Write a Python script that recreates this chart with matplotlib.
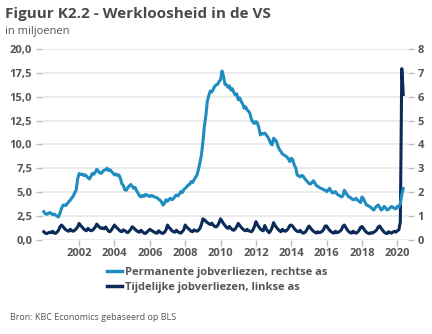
import numpy as np
import matplotlib
matplotlib.use("Agg")
import matplotlib.pyplot as plt
from matplotlib.lines import Line2D

# Monthly series, Jan 2000 - May 2020 (millions)
# Permanent job losers (right axis)
permanent = [
    1.18, 1.10, 1.07, 1.10, 1.14, 1.12, 1.05, 1.08, 1.04, 0.99, 0.96, 1.12,  # 2000
    1.30, 1.45, 1.46, 1.44, 1.52, 1.60, 1.66, 1.76, 1.82, 1.98, 2.08, 2.55,  # 2001
    2.78, 2.74, 2.76, 2.70, 2.73, 2.68, 2.60, 2.55, 2.66, 2.79, 2.75, 2.84,  # 2002
    2.96, 2.88, 2.80, 2.79, 2.86, 2.92, 2.95, 3.00, 2.90, 2.94, 2.86, 2.80,  # 2003
    2.72, 2.76, 2.70, 2.72, 2.58, 2.35, 2.28, 2.10, 2.08, 2.18, 2.26, 2.32,  # 2004
    2.25, 2.16, 2.20, 2.05, 1.96, 1.84, 1.80, 1.86, 1.82, 1.90, 1.88, 1.84,  # 2005
    1.82, 1.86, 1.84, 1.80, 1.78, 1.76, 1.70, 1.66, 1.58, 1.46, 1.54, 1.68,  # 2006
    1.62, 1.70, 1.74, 1.68, 1.72, 1.82, 1.88, 1.84, 1.92, 2.02, 1.98, 2.10,  # 2007
    2.16, 2.22, 2.30, 2.32, 2.44, 2.40, 2.52, 2.62, 2.72, 2.95, 3.25, 3.55,  # 2008
    4.10, 4.76, 5.20, 5.80, 6.05, 6.24, 6.20, 6.30, 6.44, 6.50, 6.52, 6.64,  # 2009
    6.72, 7.08, 6.86, 6.52, 6.50, 6.40, 6.46, 6.28, 6.34, 6.18, 6.08, 6.12,  # 2010
    5.88, 5.95, 5.80, 5.70, 5.52, 5.58, 5.45, 5.40, 5.28, 5.04, 4.94, 4.88,  # 2011
    4.96, 4.90, 4.70, 4.40, 4.46, 4.44, 4.48, 4.40, 4.32, 4.20, 4.05, 3.98,  # 2012
    4.26, 4.20, 4.12, 3.92, 3.78, 3.70, 3.60, 3.56, 3.52, 3.48, 3.40, 3.28,  # 2013
    3.42, 3.36, 3.14, 3.02, 2.72, 2.68, 2.64, 2.70, 2.68, 2.58, 2.50, 2.44,  # 2014
    2.36, 2.34, 2.40, 2.48, 2.38, 2.28, 2.24, 2.20, 2.16, 2.14, 2.10, 2.08,  # 2015
    2.02, 2.08, 2.16, 2.04, 1.96, 2.00, 2.02, 1.92, 1.88, 1.84, 1.80, 1.84,  # 2016
    2.08, 1.98, 1.88, 1.80, 1.78, 1.72, 1.68, 1.70, 1.74, 1.66, 1.62, 1.56,  # 2017
    1.80, 1.72, 1.58, 1.46, 1.44, 1.40, 1.36, 1.30, 1.25, 1.34, 1.42, 1.46,  # 2018
    1.36, 1.25, 1.30, 1.40, 1.34, 1.25, 1.28, 1.34, 1.40, 1.36, 1.32, 1.30,  # 2019
    1.40, 1.38, 1.52, 1.90, 2.15,                                            # 2020
]

# Job losers on temporary layoff (left axis)
temporary = [
    0.85, 0.70, 0.65, 0.72, 0.80, 0.75, 0.90, 0.70, 0.68, 0.80, 1.00, 1.35,  # 2000
    1.55, 1.40, 1.20, 1.05, 0.95, 0.90, 1.10, 0.95, 0.90, 1.00, 1.15, 1.35,  # 2001
    1.72, 1.50, 1.35, 1.15, 1.02, 0.95, 1.20, 1.05, 0.95, 1.00, 1.15, 1.35,  # 2002
    1.65, 1.45, 1.30, 1.20, 1.25, 1.15, 1.35, 1.10, 0.90, 0.85, 1.05, 1.30,  # 2003
    1.55, 1.35, 1.20, 1.05, 0.90, 0.85, 1.05, 0.95, 0.85, 0.75, 0.90, 1.10,  # 2004
    1.37, 1.25, 1.10, 0.95, 0.85, 0.80, 1.00, 0.85, 0.70, 0.67, 0.80, 0.95,  # 2005
    1.10, 1.00, 0.90, 0.80, 0.72, 0.70, 0.95, 0.80, 0.70, 0.68, 0.80, 1.05,  # 2006
    1.55, 1.30, 1.15, 0.95, 0.85, 0.80, 1.00, 0.85, 0.75, 0.70, 0.85, 1.05,  # 2007
    1.55, 1.35, 1.20, 1.05, 0.90, 0.85, 1.05, 0.95, 0.90, 1.00, 1.20, 1.60,  # 2008
    2.20, 2.10, 1.95, 1.80, 1.70, 1.60, 1.75, 1.55, 1.40, 1.35, 1.50, 1.80,  # 2009
    2.20, 1.95, 1.70, 1.50, 1.30, 1.20, 1.40, 1.20, 1.05, 1.00, 1.15, 1.40,  # 2010
    1.72, 1.50, 1.30, 1.15, 1.00, 0.95, 1.10, 0.95, 0.90, 0.85, 1.05, 1.40,  # 2011
    1.90, 1.60, 1.35, 1.15, 1.00, 0.95, 1.50, 1.15, 0.90, 0.75, 0.95, 1.30,  # 2012
    1.80, 1.50, 1.30, 1.10, 0.95, 0.85, 1.10, 0.95, 0.90, 1.00, 1.20, 1.50,  # 2013
    1.55, 1.40, 1.20, 1.00, 0.90, 0.85, 1.00, 0.80, 0.70, 0.75, 0.90, 1.20,  # 2014
    1.45, 1.25, 1.05, 0.90, 0.80, 0.70, 0.85, 0.75, 0.80, 0.90, 1.10, 1.45,  # 2015
    1.45, 1.20, 1.00, 0.85, 0.75, 0.70, 0.90, 0.75, 0.80, 0.90, 1.05, 1.40,  # 2016
    1.55, 1.30, 1.05, 0.85, 0.75, 0.70, 0.90, 0.75, 0.70, 0.80, 1.00, 1.30,  # 2017
    1.40, 1.20, 0.95, 0.80, 0.70, 0.65, 0.75, 0.70, 0.80, 0.90, 1.05, 1.35,  # 2018
    1.45, 1.20, 1.00, 0.80, 0.70, 0.65, 0.85, 0.75, 0.70, 0.80, 0.90, 0.80,  # 2019
    0.95, 1.05, 1.85, 17.95, 15.25,                                          # 2020
]

start_year = 2000
year_ticks = list(range(2002, 2021, 2))
left_ticks = [0, 2.5, 5, 7.5, 10, 12.5, 15, 17.5, 20]
right_ticks = list(range(0, 9))

label_perm = "Permanente jobverliezen, rechtse as"
label_temp = "Tijdelijke jobverliezen, linkse as"
title = "Figuur K2.2 - Werkloosheid in de VS"
subtitle = "in miljoenen"
source = "Bron: KBC Economics gebaseerd op BLS"

c_light = "#1f8dc0"
c_dark = "#0a2b57"
c_text = "#555555"
c_grid = "#ebebeb"

plt.rcParams["font.family"] = ["Open Sans", "DejaVu Sans"]

t_perm = start_year + np.arange(len(permanent)) / 12.0
t_temp = start_year + np.arange(len(temporary)) / 12.0

fig = plt.figure(figsize=(4.32, 3.34), dpi=100)
ax = fig.add_axes([0.0972, 0.282, 0.8472, 0.571])
ax2 = ax.twinx()

for v in left_ticks:
    ax.axhline(v, color=c_grid, lw=1.4, zorder=0)

ax.plot(t_temp, temporary, color=c_dark, lw=2.2, solid_joinstyle="round", zorder=3)
ax2.plot(t_perm, permanent, color=c_light, lw=2.2, solid_joinstyle="round", zorder=3)

ax.set_xlim(1999.9, 2020.6)
ax.set_ylim(0, 20)
ax2.set_ylim(0, 8)

ax.set_yticks(left_ticks)
ax.set_yticklabels([f"{v:.1f}".replace(".", ",") for v in left_ticks])
ax2.set_yticks(right_ticks)
ax2.set_yticklabels([str(v) for v in right_ticks])
ax.set_xticks(year_ticks)
ax.set_xticklabels([str(y) for y in year_ticks])

for a in (ax, ax2):
    for s in a.spines.values():
        s.set_visible(False)
    a.tick_params(axis="both", colors="#bdbdbd", labelcolor=c_text,
                  labelsize=8, length=4, width=1, pad=3)
    for lab in a.get_yticklabels() + a.get_xticklabels():
        lab.set_fontweight("bold")
ax.tick_params(axis="x", length=4, pad=2)

fig.text(0.012, 0.958, title, fontsize=11, fontweight="bold", color="#4a4a4a",
         va="center", ha="left")
fig.text(0.012, 0.905, subtitle, fontsize=8, color=c_text, va="center", ha="left")
fig.text(0.023, 0.048, source, fontsize=6.5, color=c_text, va="center", ha="left")

handles = [Line2D([0], [0], color=c_light, lw=2.5),
           Line2D([0], [0], color=c_dark, lw=2.5)]
leg = fig.legend(handles, [label_perm, label_temp], loc="upper left",
                 bbox_to_anchor=(0.238, 0.215), frameon=False, handlelength=1.3,
                 handletextpad=0.3, labelspacing=0.35, borderaxespad=0,
                 prop={"size": 8, "weight": "bold"})
for txt in leg.get_texts():
    txt.set_color(c_text)

fig.savefig("out.png", dpi=100)
